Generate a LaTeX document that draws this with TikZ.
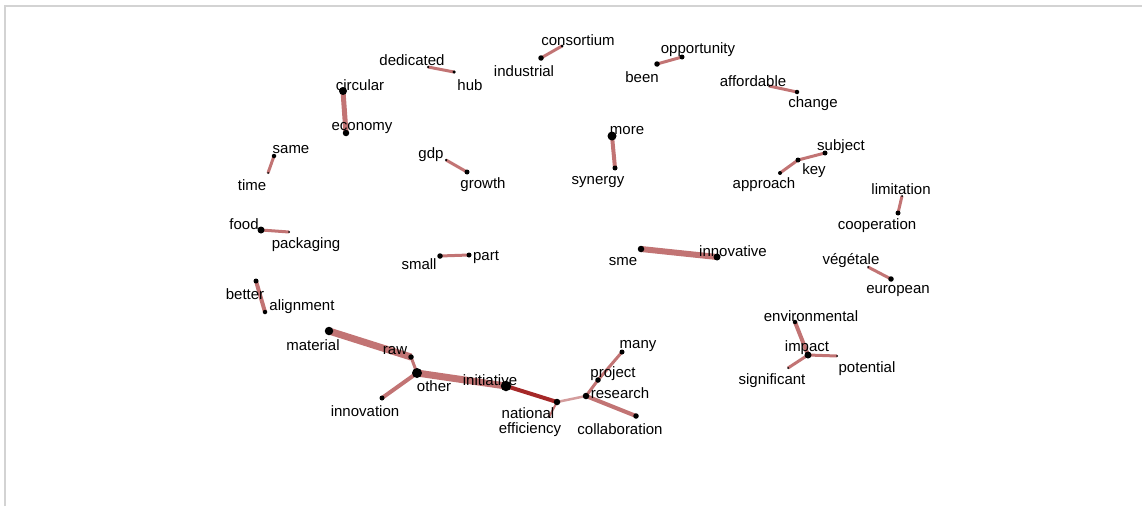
\documentclass[tikz,border=0pt]{standalone}
\usepackage{fontspec}
\setmainfont{Liberation Sans}
\usetikzlibrary{
	positioning	% relative placement
	, backgrounds	% edges behind the vertices
}
\definecolor{edgered}{RGB}{194,116,116}
\definecolor{edgedark}{RGB}{165,40,40}
\definecolor{framegray}{RGB}{211,211,211}

\begin{document}
\begin{tikzpicture}[
			x=1pt, y=-1pt,
			dot/.style={
				circle,
				fill=black,
				inner sep=0pt
			},
			word/.style={
				font=\fontsize{15}{16}\selectfont,
				inner sep=0pt,
				yshift=-2pt
			},
			link/.style={
				draw=edgered,
				line width=#1
			},
			link/.default=3pt,
			strong/.style={
				draw=edgedark,
				line width=#1
			}]

			\useasboundingbox (0,0) rectangle (1142,506);
			\draw[framegray, line width=2pt] (5,506) -- (5,6) -- (1142,6);

			%%% Vertices: name / position / size / label position / label
			\foreach \name/\x/\y/\d/\lx/\ly/\txt in {
				dedicated/428/67/2.5/412/58/dedicated,
				hub/454/72/3.5/470/83/hub,
				industrial/541/58/5.5/524/69/industrial,
				consortium/562/46/3/578/38/consortium,
				circular/343/91/8/360/83/circular,
				economy/346/133/6.5/362/126/economy,
				same/274/156/4.5/291/148/same,
				time/268/173/2/252/183/time,
				gdp/446/160/2.5/431/153/gdp,
				growth/467/172/5/483/183/growth,
				been/657/64/5.5/642/75/been,
				opportunity/682/57/5/698/48/opportunity,
				affordable/769/86/2/753/79/affordable,
				change/797/92/4.5/813/102/change,
				more/612/136/9/627/129/more,
				synergy/615/168/5/598/180/synergy,
				subject/825/153/5/841/145/subject,
				key/798/160/5/814/169/key,
				approach/780/173/4/764/183/approach,
				limitation/902/196/2/901/187/limitation,
				cooperation/898/213/5/877/224/cooperation,
				food/261/230/7/244/222/food,
				packaging/289/232/2/306/243/packaging,
				small/440/256/5.5/419/262/small,
				part/469/255/5/486/255/part,
				sme/641/249/6.5/623/260/sme,
				innovative/717/257/7/733/249/innovative,
				vegetale/868/267/2/851/259/végétale,
				european/891/279/5.5/898/289/european,
				better/256/281/5/245/292/better,
				alignment/265/312/4.5/302/305/alignment,
				environmental/795/322/4.5/811/314/environmental,
				impact/808/355/7/807/346/impact,
				potential/837/356/2/867/367/potential,
				significant/788/368/2/772/379/significant,
				material/329/331/8.5/313/343/material,
				raw/411/357/5.5/395/349/raw,
				other/417/373/10/434/384/other,
				innovation/382/398/5/365/409/innovation,
				initiative/506/386/10.5/490/378/initiative,
				national/557/402/6.5/528/411/national,
				efficiency/549/417/2/530/428/efficiency,
				research/586/396/6.5/620/391/research,
				project/598/380/5.5/613/372/project,
				many/622/352/5/638/344/many,
				collaboration/636/416/5.5/620/427/collaboration} {
				\node [dot, minimum size=\d pt] (\name) at (\x,\y) {};
				\node [word] (\name-lbl) at (\lx,\ly) {\txt};
			};

			\begin{scope}[on background layer]
				\draw [link] (dedicated.center) -- (hub.center);
				\draw [link] (industrial.center) -- (consortium.center);
				\draw [link=5pt] (circular.center) -- (economy.center);
				\draw [link] (same.center) -- (time.center);
				\draw [link] (gdp.center) -- (growth.center);
				\draw [link] (been.center) -- (opportunity.center);
				\draw [link] (affordable.center) -- (change.center);
				\draw [link=4pt] (more.center) -- (synergy.center);
				\draw [link] (approach.center) -- (key.center);
				\draw [link] (key.center) -- (subject.center);
				\draw [link] (limitation.center) -- (cooperation.center);
				\draw [link] (food.center) -- (packaging.center);
				\draw [link] (small.center) -- (part.center);
				\draw [link=4pt] (better.center) -- (alignment.center);
				\draw [link=6pt] (sme.center) -- (innovative.center);
				\draw [link] (vegetale.center) -- (european.center);
				\draw [link=4pt] (environmental.center) -- (impact.center);
				\draw [link] (impact.center) -- (potential.center);
				\draw [link] (impact.center) -- (significant.center);

				% the large component
				\draw [link=7pt] (material.center) -- (raw.center);
				\draw [link] (raw.center) -- (other.center);
				\draw [link=4pt] (other.center) -- (innovation.center);
				\draw [link=7pt] (other.center) -- (initiative.center);
				\draw [strong=4pt] (initiative.center) -- (national.center);
				\draw [link=2pt] (national.center) -- (efficiency.center);
				\draw [link=2.5pt, draw opacity=0.7] (national.center) -- (research.center);
				\draw [link] (research.center) -- (project.center);
				\draw [link] (project.center) -- (many.center);
				\draw [link=4pt] (research.center) -- (collaboration.center);
			\end{scope}

		\end{tikzpicture}
\end{document}
